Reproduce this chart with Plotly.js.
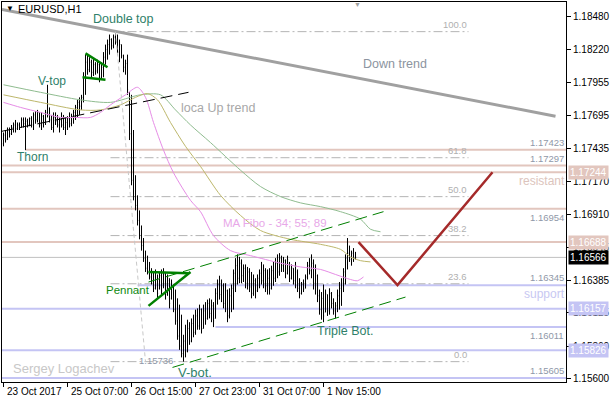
<!DOCTYPE html>
<html><head><meta charset="utf-8">
<script src="https://cdn.plot.ly/plotly-3.0.1.min.js"></script>
<style>html,body{margin:0;padding:0;background:#fff}#chart{width:610px;height:400px}</style>
</head><body><div id="chart"></div>
<script>
// ---------- data ----------
const xTickBars = [0, 32, 64, 96, 128, 160];
const xTickLabels = ["23 Oct 2017", "25 Oct 07:00", "26 Oct 15:00", "27 Oct 23:00", "31 Oct 07:00", "1 Nov 15:00"];
const yTickValues = [1.18480, 1.18220, 1.17955, 1.17695, 1.17435, 1.17170, 1.16910, 1.16645, 1.16385, 1.16125, 1.15860, 1.15600];

const barOpen = [
1.1747,1.1754,1.1751,1.1758,1.1755,1.1760,1.1762,1.1759,1.1762,1.1760,
1.1766,1.1763,1.1765,1.1762,1.1767,1.1762,1.1770,1.1766,1.1772,1.1762,
1.1769,1.1764,1.1772,1.1770,1.1766,1.1760,1.1768,1.1765,1.1762,1.1766,
1.1762,1.1760,1.1764,1.1767,1.1763,1.1769,1.1772,1.1776,1.1780,1.1777,
1.1784,1.1800,1.1812,1.1806,1.1812,1.1804,1.1810,1.1805,1.1810,1.1800,
1.1808,1.1816,1.1822,1.1826,1.1830,1.1825,1.1832,1.1828,1.1820,1.1826,
1.1817,1.1808,1.1811,1.1788,1.1755,1.1718,1.1705,1.1698,1.1686,1.1674,
1.1666,1.1656,1.1648,1.1645,1.1641,1.1638,1.1632,1.1640,1.1632,1.1642,
1.1634,1.1643,1.1628,1.1638,1.1624,1.1634,1.1615,1.1606,1.1594,1.1586,
1.1580,1.1590,1.1582,1.1600,1.1590,1.1604,1.1597,1.1610,1.1602,1.1615,
1.1600,1.1614,1.1608,1.1620,1.1612,1.1618,1.1608,1.1628,1.1635,1.1627,
1.1634,1.1620,1.1630,1.1610,1.1626,1.1632,1.1644,1.1650,1.1640,1.1652,
1.1642,1.1648,1.1636,1.1645,1.1633,1.1628,1.1638,1.1630,1.1640,1.1644,
1.1638,1.1646,1.1634,1.1640,1.1632,1.1646,1.1640,1.1652,1.1645,1.1656,
1.1650,1.1654,1.1644,1.1652,1.1640,1.1648,1.1638,1.1645,1.1632,1.1628,
1.1635,1.1632,1.1641,1.1650,1.1646,1.1652,1.1636,1.1642,1.1626,1.1615,
1.1624,1.1613,1.1627,1.1614,1.1628,1.1620,1.1614,1.1618,1.1626,1.1632,
1.1636,1.1645,1.1656,1.1660,1.1655,1.1660,1.1656];
const barHigh = [
1.1756,1.1758,1.1760,1.1760,1.1762,1.1764,1.1766,1.1764,1.1764,1.1768,
1.1768,1.1768,1.1767,1.1768,1.1769,1.1772,1.1773,1.1774,1.1772,1.1772,
1.1770,1.1774,1.1794,1.1776,1.1770,1.1772,1.1772,1.1770,1.1768,1.1772,
1.1770,1.1768,1.1769,1.1772,1.1771,1.1774,1.1778,1.1782,1.1784,1.1786,
1.1804,1.1818,1.1818,1.1816,1.1814,1.1815,1.1812,1.1814,1.1812,1.1812,
1.1820,1.1826,1.1830,1.1834,1.1831,1.1834,1.18363,1.1834,1.1830,1.1826,
1.1818,1.1814,1.1818,1.1788,1.1786,1.1758,1.1722,1.1706,1.1694,1.1682,
1.1672,1.1662,1.1658,1.1653,1.1648,1.1645,1.1647,1.1643,1.1645,1.1647,
1.1648,1.1645,1.1643,1.1640,1.1639,1.1635,1.1631,1.1624,1.1619,1.1611,
1.1595,1.1603,1.1607,1.1605,1.1608,1.1611,1.1615,1.1616,1.1619,1.1616,
1.1619,1.1621,1.1623,1.1624,1.1623,1.1621,1.1632,1.1639,1.1642,1.1639,
1.1636,1.1636,1.1631,1.1632,1.1635,1.1647,1.1656,1.1659,1.1657,1.1655,
1.1651,1.1651,1.1649,1.1648,1.1645,1.1643,1.1640,1.1643,1.1647,1.1653,
1.1651,1.1648,1.1647,1.1648,1.1650,1.1653,1.1656,1.1659,1.1660,1.1658,
1.1657,1.1655,1.1658,1.1653,1.1651,1.1648,1.1653,1.1647,1.1640,1.1637,
1.1639,1.1643,1.1653,1.1656,1.1659,1.1655,1.1651,1.1643,1.1631,1.1629,
1.1635,1.1631,1.1627,1.1632,1.1629,1.1624,1.1621,1.1631,1.1637,1.1640,
1.1648,1.1659,1.1672,1.1666,1.1662,1.1664,1.1661];
const barLow = [
1.1745,1.1748,1.1750,1.1752,1.1754,1.1756,1.1756,1.1758,1.1758,1.1760,
1.1760,1.1742,1.1760,1.1761,1.1760,1.1758,1.1763,1.1764,1.1760,1.1758,
1.1760,1.1762,1.1768,1.1764,1.1758,1.1756,1.1762,1.1760,1.1756,1.1760,
1.1758,1.1754,1.1758,1.1760,1.1761,1.1763,1.1766,1.1768,1.1770,1.1774,
1.1780,1.1786,1.1802,1.1804,1.1799,1.1801,1.1802,1.1803,1.1796,1.1798,
1.1800,1.1810,1.1814,1.1818,1.1822,1.1823,1.1826,1.1818,1.1812,1.1815,
1.1804,1.1802,1.1786,1.1750,1.1714,1.1702,1.1694,1.1682,1.1671,1.1662,
1.1653,1.1645,1.1643,1.1639,1.1635,1.1629,1.1631,1.1624,1.1631,1.1627,
1.1632,1.1623,1.1626,1.1616,1.1623,1.1613,1.1603,1.1591,1.1583,1.1577,
1.15736,1.1577,1.1581,1.1587,1.1589,1.1593,1.1595,1.1599,1.1599,1.1596,
1.1600,1.1603,1.1607,1.1608,1.1605,1.16011,1.1608,1.1619,1.1623,1.1621,
1.1616,1.1613,1.1605,1.1608,1.1613,1.1615,1.1629,1.1635,1.1636,1.1636,
1.1637,1.1632,1.1631,1.1629,1.1624,1.1626,1.1624,1.1629,1.1632,1.1635,
1.1632,1.1629,1.1627,1.1627,1.1631,1.1634,1.1637,1.1640,1.1642,1.1645,
1.1645,1.1640,1.1643,1.1637,1.1639,1.1635,1.1632,1.1629,1.1624,1.1627,
1.1629,1.1632,1.1639,1.1643,1.1640,1.1631,1.1627,1.1621,1.1611,1.1607,
1.1605,1.1613,1.1610,1.1611,1.1616,1.1611,1.1608,1.1613,1.1615,1.1618,
1.1629,1.1635,1.1647,1.1653,1.1650,1.1653,1.1655];
const barClose = [
1.1754,1.1750,1.1758,1.1755,1.1760,1.1762,1.1759,1.1762,1.1760,1.1766,
1.1763,1.1765,1.1762,1.1767,1.1762,1.1770,1.1766,1.1772,1.1762,1.1769,
1.1764,1.1772,1.1770,1.1766,1.1760,1.1768,1.1765,1.1762,1.1766,1.1762,
1.1760,1.1764,1.1767,1.1763,1.1769,1.1772,1.1776,1.1780,1.1777,1.1784,
1.1800,1.1812,1.1806,1.1812,1.1804,1.1810,1.1805,1.1810,1.1800,1.1808,
1.1816,1.1822,1.1826,1.1830,1.1825,1.1832,1.1828,1.1820,1.1826,1.1817,
1.1808,1.1811,1.1790,1.1755,1.1718,1.1705,1.1698,1.1686,1.1674,1.1666,
1.1656,1.1648,1.1645,1.1641,1.1638,1.1632,1.1644,1.1628,1.1642,1.1630,
1.1645,1.1627,1.1640,1.1620,1.1636,1.1615,1.1606,1.1594,1.1586,1.1580,
1.1590,1.1582,1.1600,1.1590,1.1604,1.1597,1.1610,1.1602,1.1615,1.1600,
1.1614,1.1606,1.1620,1.1612,1.1618,1.1606,1.1628,1.1635,1.1627,1.1634,
1.1620,1.1630,1.1610,1.1626,1.1632,1.1644,1.1650,1.1640,1.1652,1.1642,
1.1648,1.1636,1.1645,1.1633,1.1628,1.1638,1.1630,1.1640,1.1644,1.1638,
1.1646,1.1634,1.1640,1.1632,1.1646,1.1640,1.1652,1.1645,1.1656,1.1650,
1.1654,1.1644,1.1655,1.1640,1.1648,1.1638,1.1650,1.1632,1.1628,1.1635,
1.1631,1.1641,1.1650,1.1646,1.1652,1.1636,1.1644,1.1626,1.1615,1.1624,
1.1610,1.1628,1.1614,1.1628,1.1620,1.1614,1.1618,1.1626,1.1632,1.1636,
1.1645,1.1656,1.1660,1.1655,1.1660,1.1656,1.16566];

// moving averages
const ma34Bars = [0,8.5,18.5,28.5,36,43.5,48.5,53.5,61,67,71,75,80,85,93.5,98.5,105,113.5,123.5,138.5,148.5,158.5,166,173.5,177,180];
const ma34Values = [1.1780,1.1776,1.1772,1.1768,1.1768,1.1768,1.1772,1.1778,1.1786,1.1792,1.1784,1.1764,1.1742,1.1724,1.1702,1.1693,1.1674,1.1662,1.1658,1.1652,1.1649,1.1647,1.1643,1.1639,1.1638,1.1641];
const ma55Bars = [0,18.5,38.5,48.5,58.5,66,72,77,83.5,91,98.5,108.5,118.5,128.5,143.5,158.5,168.5,173.5,178.5,183.5];
const ma55Values = [1.1786,1.1780,1.1774,1.1774,1.1778,1.1784,1.1787,1.1782,1.1764,1.1745,1.1729,1.1706,1.1690,1.1678,1.1671,1.1667,1.1663,1.1657,1.1654,1.1653];
const ma89Bars = [0,18.5,38.5,53.5,68.5,78.5,86,93.5,103.5,118.5,128.5,138.5,148.5,158.5,168.5,178.5,183.5,188.5];
const ma89Values = [1.1794,1.1788,1.1782,1.1780,1.1786,1.1786,1.1774,1.1762,1.1748,1.1726,1.1713,1.1705,1.1700,1.1697,1.1693,1.1687,1.1679,1.1677];

// drawn objects
const downTrendBars = [-0.75, 276];      const downTrendValues = [1.1854, 1.1769];
const localUpBars = [-0.75, 92.5];       const localUpValues = [1.1757, 1.1788];
const channelUpperBars = [72.5, 190];    const channelUpperValues = [1.1637, 1.1693];
const channelLowerBars = [84.5, 201];    const channelLowerValues = [1.1569, 1.1625];
const pennantTopBars = [72.5, 92.5];     const pennantTopValues = [1.1645, 1.1644];
const pennantBottomBars = [72.5, 93.5];  const pennantBottomValues = [1.1618, 1.1645];
const flagTopBars = [41, 52];            const flagTopValues = [1.1819, 1.1808];
const flagBottomBars = [39.5, 51];       const flagBottomValues = [1.1800, 1.1798];
const forecastBars = [177.5, 197, 244.5]; const forecastValues = [1.16688, 1.16345, 1.17244];

const fiboHighBar = 56, fiboLowBar = 71;
const fiboHigh = 1.18363, fiboLow = 1.15736;
const fiboRatios = [0, 23.6, 38.2, 50.0, 61.8, 100.0];
const fiboLabels = ["0.0", "23.6", "38.2", "50.0", "61.8", "100.0"];
const fiboFromBar = 53.5, fiboToBar = 232.5;

const resistLevels = [1.17423, 1.17297, 1.17244, 1.16954, 1.16688];
const resistFromBar = [11, -0.75, -0.75, -0.75, -0.75];
const supportLevels = [1.16345, 1.16157, 1.16011, 1.15826, 1.15605];
const supportFromBar = [67, -0.75, 106, -0.75, -0.75];
const bidPrice = 1.16566;

// ---------- drawing ----------
const F = "Liberation Sans, Arial, sans-serif";
const X0 = -0.75, X1 = 281.25;
const barIdx = barClose.map((_, i) => i);
const traces = [];
function line(x, y, color, width, dash, shape) {
  traces.push({type: 'scatter', mode: 'lines', x: x, y: y, hoverinfo: 'skip',
    line: {color: color, width: width, dash: dash || 'solid', shape: shape || 'linear', smoothing: 0.8}});
}
// MAs
line(ma89Bars, ma89Values, '#8fbc8f', 1, 'solid', 'spline');
line(ma55Bars, ma55Values, '#bdb76b', 1, 'solid', 'spline');
line(ma34Bars, ma34Values, '#e68ce6', 1, 'solid', 'spline');
// bars
traces.push({type: 'ohlc', x: barIdx, open: barOpen, high: barHigh, low: barLow, close: barClose,
  increasing: {line: {color: '#000', width: 1}}, decreasing: {line: {color: '#000', width: 1}},
  tickwidth: 0.3, hoverinfo: 'skip'});
// objects
line(downTrendBars, downTrendValues, '#a0a0a0', 3);
line(localUpBars, localUpValues, '#000', 1, '12px,6px');
line(channelUpperBars, channelUpperValues, '#008000', 1, '12px,6px');
line(channelLowerBars, channelLowerValues, '#008000', 1, '12px,6px');
line(pennantTopBars, pennantTopValues, '#008000', 2.5);
line(pennantBottomBars, pennantBottomValues, '#008000', 2.5);
line(flagTopBars, flagTopValues, '#008000', 2.5);
line(flagBottomBars, flagBottomValues, '#008000', 2.5);
line([fiboHighBar, fiboLowBar], [fiboHigh, fiboLow], '#c8c8c8', 1, '4px,3px');
line(forecastBars, forecastValues, '#a52a2a', 2.5);

const shapes = [];
resistLevels.forEach((v, i) => shapes.push({type: 'line', xref: 'x', yref: 'y', x0: resistFromBar[i], x1: X1, y0: v, y1: v,
  line: {color: '#e2c6be', width: 2}, layer: 'below'}));
supportLevels.forEach((v, i) => shapes.push({type: 'line', xref: 'x', yref: 'y', x0: supportFromBar[i], x1: X1, y0: v, y1: v,
  line: {color: '#c4c4f4', width: 2}, layer: 'below'}));
shapes.push({type: 'line', xref: 'x', yref: 'y', x0: X0, x1: X1, y0: bidPrice, y1: bidPrice, line: {color: '#c0c0c0', width: 1}, layer: 'below'});
const fiboValues = fiboRatios.map(r => fiboLow + (fiboHigh - fiboLow) * r / 100);
fiboValues.forEach(v => shapes.push({type: 'line', xref: 'x', yref: 'y', x0: fiboFromBar, x1: fiboToBar, y0: v, y1: v,
  line: {color: '#b4b4b4', width: 1, dash: '9px,3px,2px,3px'}, layer: 'below'}));

// annotations
const ann = [];
function px(x) { return (x - 2) / 564; }
function py(y) { return (382 - y) / 380; }
function txt(x, y, text, size, color, xa) {
  ann.push({xref: 'paper', yref: 'paper', x: px(x), y: py(y), text: text, showarrow: false,
    xanchor: xa || 'left', yanchor: 'middle', font: {family: F, size: size, color: color}});
}
const teal = '#2f7f6a';
txt(4, 9, '▼', 8, '#000');
txt(16, 9, 'EURUSD,H1', 11, '#000');
txt(91, 19, 'Double top', 12.5, teal);
txt(361, 64, 'Down trend', 12.5, '#8c94a0');
txt(179, 108, 'loca Up trend', 12.5, '#a8a8a8');
txt(36, 81, 'V-top', 12, teal);
txt(15, 157, 'Thorn', 12, teal);
txt(221, 223, 'MA Fibo - 34; 55; 89', 11.5, '#e8a8e8');
txt(104, 290, 'Pennant', 11.5, '#108a10');
txt(315, 331, 'Triple Bot.', 12.5, teal);
txt(176, 372, 'V-bot.', 13, teal);
txt(11, 368, 'Sergey Logachev', 13, '#c8c8c8');
txt(137, 360, '1.15736', 9.5, '#8f98a8');
txt(567, 181, 'resistant', 12, '#dcc4bc', 'right');
txt(567, 294, 'support', 12, '#c8c8f2', 'right');
txt(357, 4, '▼', 7, '#a0a0a0', 'center');

// time labels, left-aligned at their tick like the terminal does
xTickBars.forEach((b, i) => ann.push({xref: 'x', yref: 'paper', x: b, y: py(391), xshift: 1, text: xTickLabels[i],
  showarrow: false, xanchor: 'left', yanchor: 'middle', font: {family: F, size: 10, color: '#000'}}));

// level value labels inside plot
const levelLabelAbove = {1.17423: true, 1.17297: true, 1.16954: false, 1.16345: true, 1.16011: false, 1.15605: true};
[1.17423, 1.17297, 1.16954, 1.16345, 1.16011, 1.15605].forEach(v => {
  const above = levelLabelAbove[v];
  ann.push({xref: 'paper', yref: 'y', x: 1, y: v, text: v.toFixed(5), showarrow: false, xanchor: 'right',
    yanchor: above ? 'bottom' : 'top', yshift: above ? 0 : -1, font: {family: F, size: 9.5, color: '#8f98a8'}});
});
// fibo labels
fiboValues.forEach((v, i) => ann.push({xref: 'x', yref: 'y', x: fiboToBar, y: v, text: fiboLabels[i], showarrow: false,
  xanchor: 'right', yanchor: 'bottom', font: {family: F, size: 9.5, color: '#b0b0b0'}}));
// axis price tags
function tag(v, bg) {
  ann.push({xref: 'paper', yref: 'y', x: 1, y: v, xshift: 2, text: v.toFixed(5), showarrow: false, xanchor: 'left',
    yanchor: 'middle', bgcolor: bg, borderpad: 1, font: {family: F, size: 10, color: '#fff'}});
}
tag(1.17244, '#e2c6be');
tag(1.16688, '#e2c6be');
tag(bidPrice, '#000');
tag(1.16157, '#c4c4f4');
tag(1.15826, '#c4c4f4');

const layout = {
  width: 610, height: 400, margin: {l: 2, r: 44, t: 2, b: 18},
  paper_bgcolor: '#fff', plot_bgcolor: '#fff', showlegend: false, dragmode: false,
  xaxis: {range: [X0, X1], showgrid: false, zeroline: false, showline: true, mirror: true, linecolor: '#000', linewidth: 1,
    ticks: 'outside', ticklen: 4, tickcolor: '#000', tickvals: xTickBars, showticklabels: false,
    rangeslider: {visible: false}, fixedrange: true},
  yaxis: {range: [1.15574, 1.18599], side: 'right', showgrid: false, zeroline: false, showline: true, mirror: true,
    linecolor: '#000', linewidth: 1, ticks: 'outside', ticklen: 4, tickcolor: '#000',
    tickvals: yTickValues, ticktext: yTickValues.map(v => v.toFixed(5)), tickfont: {family: F, size: 10, color: '#000'}, fixedrange: true},
  shapes: shapes, annotations: ann
};
Plotly.newPlot('chart', traces, layout, {staticPlot: true, displayModeBar: false});
</script>
</body></html>
